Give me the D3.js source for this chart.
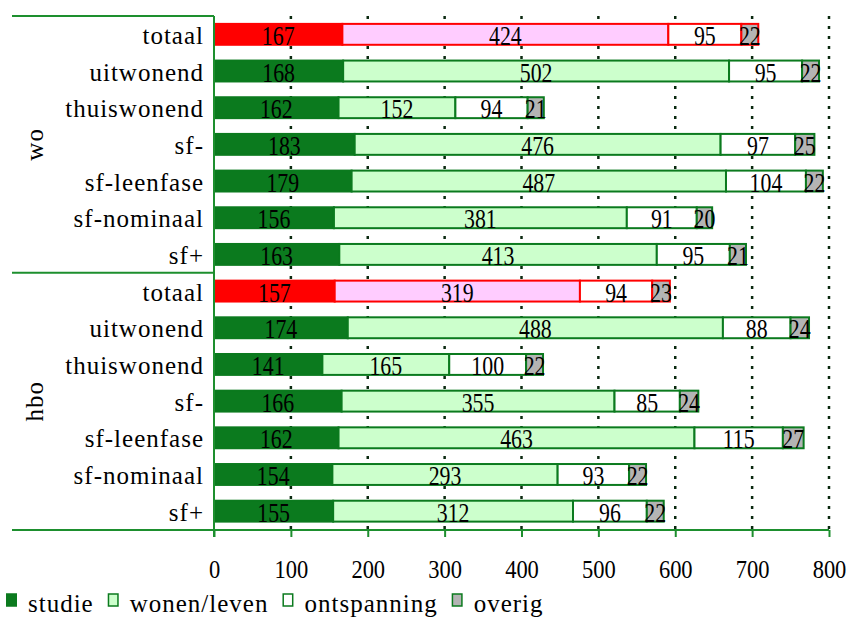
<!DOCTYPE html>
<html><head><meta charset="utf-8">
<script src="https://cdn.jsdelivr.net/npm/d3@7"></script>
<style>body{margin:0;background:#fff}svg{display:block}text{font-family:"Liberation Serif","Times New Roman",serif;fill:#000}</style>
</head><body><svg id="c" width="849" height="617"></svg>
<script>
const groups = ["wo", "hbo"];
const categories = ["totaal", "uitwonend", "thuiswonend", "sf-", "sf-leenfase", "sf-nominaal", "sf+"];
const seriesNames = ["studie", "wonen/leven", "ontspanning", "overig"];
const studie = [167, 168, 162, 183, 179, 156, 163, 157, 174, 141, 166, 162, 154, 155];
const wonenLeven = [424, 502, 152, 476, 487, 381, 413, 319, 488, 165, 355, 463, 293, 312];
const ontspanning = [95, 95, 94, 97, 104, 91, 95, 94, 88, 100, 85, 115, 93, 96];
const overig = [22, 22, 21, 25, 22, 20, 21, 23, 24, 22, 24, 27, 22, 22];
const xTicks = [0, 100, 200, 300, 400, 500, 600, 700, 800];

const GREEN = "#0b7a1e", LINE = "#1d8f2e";
const fillsNormal = [GREEN, "#ccffcc", "#ffffff", "#b4b4b4"];
const fillsTotal = ["#ff0000", "#ffccff", "#ffffff", "#b4b4b4"];

const rows = [];
groups.forEach((g, gi) => categories.forEach((c, ci) => {
  const i = gi * categories.length + ci;
  rows.push({id: g + "|" + c, group: g, cat: c, vals: [studie[i], wonenLeven[i], ontspanning[i], overig[i]]});
}));

const svg = d3.select("#c");
const x = d3.scaleLinear().domain([0, 800]).range([214, 829]);
const y = d3.scaleBand().domain(rows.map(r => r.id)).range([16, 529.5]).paddingInner(0.43).paddingOuter(0.215);

function ctext(parent, px, py, str, size, sx, anchor) {
  return parent.append("text").attr("transform", `translate(${px},${py}) scale(${sx},1)`)
    .attr("text-anchor", anchor || "middle").attr("font-size", size).text(str);
}

// gridlines
svg.append("g").selectAll("line").data(xTicks.filter(t => t > 0)).join("line")
  .attr("x1", d => x(d)).attr("x2", d => x(d)).attr("y1", 16).attr("y2", 530)
  .attr("stroke", "#0b2a10").attr("stroke-width", 2.5).attr("stroke-dasharray", "3,7");

// bars
const bars = svg.append("g");
rows.forEach(r => {
  const isTot = r.cat === "totaal";
  const fills = isTot ? fillsTotal : fillsNormal;
  const stroke = isTot ? "#ff0000" : GREEN;
  let acc = 0;
  r.vals.forEach((v, k) => {
    const x0 = x(acc), x1 = x(acc + v);
    bars.append("rect").attr("x", x0).attr("y", y(r.id)).attr("width", x1 - x0).attr("height", y.bandwidth())
      .attr("fill", fills[k]).attr("stroke", stroke).attr("stroke-width", 2);
    acc += v;
  });
});
// labels on bars
const lab = svg.append("g");
rows.forEach(r => {
  let acc = 0;
  r.vals.forEach(v => {
    ctext(lab, x(acc + v / 2), y(r.id) + y.bandwidth() / 2 + 10.5, v, 28, 0.78);
    acc += v;
  });
});

// category labels
svg.append("g").selectAll("text").data(rows).join("text")
  .attr("x", 204).attr("y", d => y(d.id) + y.bandwidth() / 2 + 9.6)
  .attr("text-anchor", "end").attr("font-size", 25).attr("letter-spacing", "1px").text(d => d.cat);

// group labels
groups.forEach(g => {
  const ids = rows.filter(r => r.group === g).map(r => r.id);
  const cy = (y(ids[0]) + y(ids[ids.length - 1]) + y.bandwidth()) / 2;
  svg.append("text").attr("transform", `translate(43,${cy}) rotate(-90)`)
    .attr("text-anchor", "middle").attr("font-size", 25).attr("letter-spacing", "1px").text(g);
});

// frame lines
const sepY = y(rows[categories.length].id) - y.step() * y.paddingInner() / 2;
const fr = svg.append("g").attr("stroke", LINE).attr("stroke-width", 2);
fr.append("line").attr("x1", 12).attr("x2", 214).attr("y1", 16).attr("y2", 16);
fr.append("line").attr("x1", 12).attr("x2", 214).attr("y1", sepY).attr("y2", sepY);
fr.append("line").attr("x1", 12).attr("x2", 829).attr("y1", 530).attr("y2", 530);
fr.append("line").attr("x1", 214).attr("x2", 214).attr("y1", 16).attr("y2", 537);

// x axis
const ax = svg.append("g").attr("transform", "translate(0,530)")
  .call(d3.axisBottom(x).tickValues(xTicks).tickSize(7).tickFormat(d3.format("d")));
ax.select(".domain").remove();
ax.selectAll("line").attr("stroke", LINE).attr("stroke-width", 2);
ax.selectAll("text").remove();
ax.selectAll(".tick").each(function(d) {
  ctext(d3.select(this), 0, 48, d, 25, 0.9).attr("font-family", "Liberation Serif").attr("fill", "#000");
});

// legend
let lx = 6;
seriesNames.forEach((s, k) => {
  svg.append("rect").attr("x", lx + 0.75).attr("y", 594).attr("width", 9.5).attr("height", 12)
    .attr("fill", fillsNormal[k]).attr("stroke", GREEN).attr("stroke-width", 1.5);
  const t = svg.append("text").attr("x", lx + 22).attr("y", 611.5).attr("font-size", 25).attr("letter-spacing", "1px").text(s);
  lx = lx + 22 + t.node().getComputedTextLength() + 14;
});
</script></body></html>
